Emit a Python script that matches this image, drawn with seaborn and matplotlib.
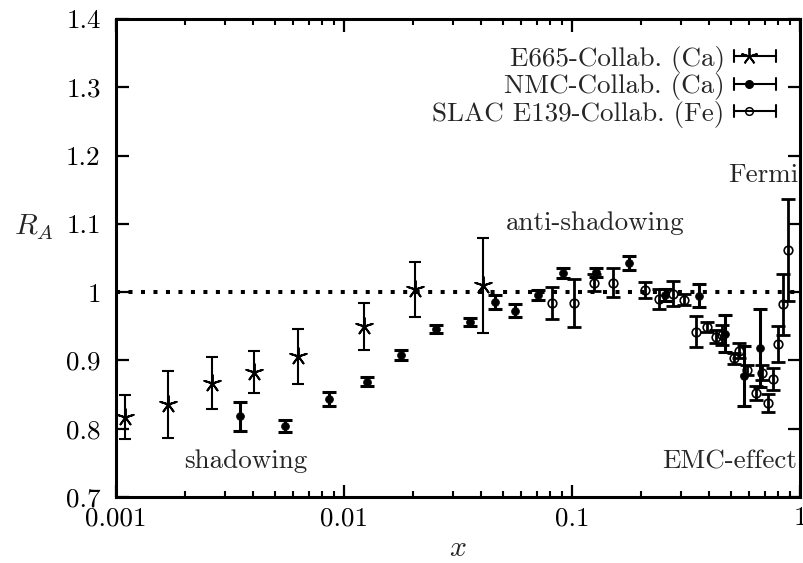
import matplotlib
matplotlib.use("Agg")
import matplotlib.pyplot as plt
import seaborn as sns
import numpy as np
from matplotlib.lines import Line2D
from matplotlib.legend_handler import HandlerBase
from matplotlib.ticker import LogLocator, NullFormatter

# ---- data ----
e665_x = [0.0011, 0.00169, 0.00264, 0.00403, 0.0063, 0.0122, 0.0205, 0.0406]
e665_y = [0.817, 0.836, 0.867, 0.883, 0.906, 0.950, 1.004, 1.010]
e665_err = [0.032, 0.049, 0.038, 0.031, 0.040, 0.034, 0.040, 0.070]

nmc_x = [0.0035, 0.0055, 0.0086, 0.0126, 0.0177, 0.0254, 0.0357, 0.0459, 0.0562,
         0.0711, 0.0916, 0.127, 0.178, 0.255, 0.361, 0.469, 0.568, 0.669]
nmc_y = [0.818, 0.804, 0.844, 0.869, 0.908, 0.946, 0.956, 0.986, 0.973,
         0.996, 1.028, 1.029, 1.043, 0.996, 0.995, 0.939, 0.877, 0.918]
nmc_err = [0.021, 0.009, 0.010, 0.007, 0.008, 0.006, 0.006, 0.010, 0.009,
           0.007, 0.008, 0.007, 0.010, 0.009, 0.017, 0.027, 0.044, 0.057]

slac_x = [0.0815, 0.102, 0.125, 0.151, 0.209, 0.241, 0.276, 0.31, 0.349, 0.392, 0.428,
          0.454, 0.514, 0.542, 0.587, 0.641, 0.679, 0.726, 0.765, 0.803, 0.845, 0.889]
slac_y = [0.984, 0.984, 1.014, 1.014, 1.003, 0.990, 0.998, 0.989, 0.942, 0.949, 0.935,
          0.937, 0.903, 0.914, 0.886, 0.852, 0.882, 0.838, 0.873, 0.924, 0.982, 1.062]
slac_err = [0.024, 0.035, 0.013, 0.021, 0.012, 0.014, 0.018, 0.008, 0.023, 0.008, 0.010,
            0.015, 0.008, 0.011, 0.008, 0.010, 0.011, 0.013, 0.016, 0.026, 0.045, 0.075]

series_labels = ["E665-Collab. (Ca)", "NMC-Collab. (Ca)", "SLAC E139-Collab. (Fe)"]
x_ticks = [0.001, 0.01, 0.1, 1]
x_tick_labels = ["0.001", "0.01", "0.1", "1"]
y_ticks = [0.7, 0.8, 0.9, 1.0, 1.1, 1.2, 1.3, 1.4]
y_tick_labels = ["0.7", "0.8", "0.9", "1", "1.1", "1.2", "1.3", "1.4"]

# ---- style ----
sns.set_theme(style="ticks")
plt.rcParams["font.family"] = ["cmr10", "DejaVu Serif"]
plt.rcParams["mathtext.fontset"] = "cm"
plt.rcParams["axes.formatter.use_mathtext"] = True
FS = 19.5

fig = plt.figure(figsize=(8.04, 5.63), dpi=100)
ax = fig.add_axes([0.1443, 0.1172, 0.8507, 0.8491])
ax.set_xscale("log")

# reference line
ax.axhline(1.0, color="black", lw=2.9, ls=(0, (1, 2.1)), dash_capstyle="butt", zorder=1.5)

# E665 stars
ax.errorbar(e665_x, e665_y, yerr=e665_err, fmt="none", ecolor="black",
            elinewidth=1.5, capsize=4.5, capthick=1.5, zorder=2)
sns.scatterplot(x=e665_x, y=e665_y, marker=(5, 2, 0), s=150, color="black",
                linewidth=1.4, ax=ax, zorder=3)

# NMC filled circles
ax.errorbar(nmc_x, nmc_y, yerr=nmc_err, fmt="none", ecolor="black",
            elinewidth=2.2, capsize=4.7, capthick=2.2, zorder=2)
sns.scatterplot(x=nmc_x, y=nmc_y, marker="o", s=32, color="black",
                edgecolor="black", linewidth=0.5, ax=ax, zorder=3)

# SLAC open circles
ax.errorbar(slac_x, slac_y, yerr=slac_err, fmt="none", ecolor="black",
            elinewidth=2.0, capsize=4.7, capthick=2.0, zorder=2)
ax.plot(slac_x, slac_y, ls="none", marker="o", ms=6.2, mfc="none", mec="black",
        mew=1.2, zorder=3)

# ---- axes ----
ax.set_xlim(0.001, 1)
ax.set_ylim(0.7, 1.4)
ax.set_xticks(x_ticks, labels=x_tick_labels)
ax.xaxis.set_minor_locator(LogLocator(base=10, subs=np.arange(2, 10)))
ax.xaxis.set_minor_formatter(NullFormatter())
ax.set_yticks(y_ticks, labels=y_tick_labels)
ax.tick_params(which="both", direction="in", top=True, right=True,
               color="black", labelcolor="black", labelsize=FS)
ax.tick_params(which="major", length=9, width=1.6)
ax.tick_params(which="minor", length=4.5, width=1.5)
ax.tick_params(axis="y", which="major", pad=11)
ax.tick_params(axis="x", which="major", pad=7)
for sp in ax.spines.values():
    sp.set_linewidth(2.2)
    sp.set_color("black")
    sp.set_visible(True)
ax.set_facecolor("white")
ax.grid(False)

ax.set_xlabel("$x$", fontsize=FS + 2, va="center")
ax.xaxis.set_label_coords(0.5, -0.107)
ax.set_ylabel("$R_A$", fontsize=FS + 2, rotation=0, va="center", ha="center")
ax.yaxis.set_label_coords(-0.12, 0.563)

# annotations
ax.text(0.00372, 0.752, "shadowing", fontsize=FS, ha="center", va="center")
ax.text(0.0514, 1.101, "anti-shadowing", fontsize=FS, ha="left", va="center")
ax.text(0.975, 0.752, "EMC-effect", fontsize=FS, ha="right", va="center")
ax.text(0.98, 1.172, "Fermi", fontsize=FS, ha="right", va="center")

# ---- gnuplot-like legend ----
class GPHandler(HandlerBase):
    def __init__(self, marker, ms, mfc, mew, lw):
        super().__init__()
        self.marker, self.ms, self.mfc, self.mew, self.lw = marker, ms, mfc, mew, lw

    def create_artists(self, legend, orig_handle, xdescent, ydescent, width,
                       height, fontsize, trans):
        y = (height - ydescent) / 2.0
        x0, x1 = -xdescent, width - xdescent
        h = 4.3
        arts = [Line2D([x0, x1], [y, y], color="black", lw=self.lw),
                Line2D([x0, x0], [y - h, y + h], color="black", lw=self.lw),
                Line2D([x1, x1], [y - h, y + h], color="black", lw=self.lw),
                Line2D([x0 + 0.36 * (x1 - x0)], [y], ls="none", marker=self.marker,
                       ms=self.ms, mfc=self.mfc, mec="black", mew=self.mew)]
        for a in arts:
            a.set_transform(trans)
        return arts

h1, h2, h3 = Line2D([], []), Line2D([], []), Line2D([], [])
hmap = {h1: GPHandler((5, 2, 0), 12, "black", 1.3, 1.5),
        h2: GPHandler("o", 5.5, "black", 1.0, 1.5),
        h3: GPHandler("o", 5.5, "none", 1.1, 1.5)}
leg = ax.legend([h1, h2, h3], series_labels, handler_map=hmap, loc="upper right",
                bbox_to_anchor=(0.965, 0.944), frameon=False, markerfirst=False,
                fontsize=FS, handlelength=1.55, handletextpad=0.35,
                labelspacing=0.02, borderpad=0, borderaxespad=0)

fig.savefig("out.png", dpi=100, facecolor="white")
